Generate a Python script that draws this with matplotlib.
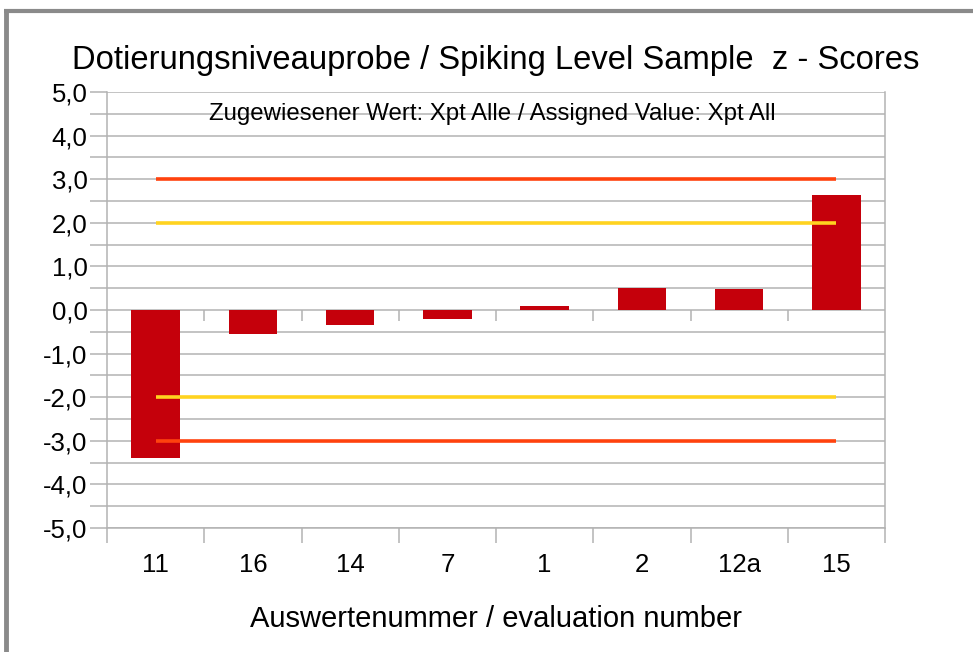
import numpy as np
import matplotlib
matplotlib.use("Agg")
import matplotlib.pyplot as plt
from matplotlib.lines import Line2D

plt.rcParams['font.family'] = ['Liberation Sans', 'DejaVu Sans']

categories = ['11', '16', '14', '7', '1', '2', '12a', '15']
z_scores = [-3.40, -0.55, -0.34, -0.20, 0.10, 0.50, 0.49, 2.64]
warn_limits = [2.0, -2.0]
action_limits = [3.0, -3.0]
y_ticks = [5, 4, 3, 2, 1, 0, -1, -2, -3, -4, -5]

title = 'Dotierungsniveauprobe / Spiking Level Sample  z - Scores'
subtitle = 'Zugewiesener Wert: Xpt Alle / Assigned Value: Xpt All'
xlabel = 'Auswertenummer / evaluation number'

W, H = 973, 652
fig = plt.figure(figsize=(W / 100, H / 100), dpi=100)
fig.patch.set_facecolor('white')

# outer frame (top and left visible)
fig.add_artist(Line2D([6 / W, 6 / W], [0, 1 - 10 / H], transform=fig.transFigure,
                      color='#8a8a8a', lw=3.5, solid_capstyle='butt'))
fig.add_artist(Line2D([4 / W, 1], [1 - 11 / H, 1 - 11 / H], transform=fig.transFigure,
                      color='#8a8a8a', lw=3, solid_capstyle='butt'))

left, right, top, bottom = 107, 885, 92, 528
ax = fig.add_axes([left / W, 1 - bottom / H, (right - left) / W, (bottom - top) / H])

x = np.arange(len(categories))
ax.set_xlim(-0.5, len(categories) - 0.5)
ax.set_ylim(-5, 5)

# grid every 0.5
ax.set_yticks(y_ticks)
ax.set_yticks(np.arange(-4.5, 5, 1.0), minor=True)
ax.grid(axis='y', which='both', color='#b3b3b3', lw=1.1, zorder=0)
ax.set_axisbelow(True)
ax.tick_params(axis='y', which='both', length=12, width=1.1, color='#b3b3b3',
               labelsize=18.5, pad=2, labelcolor='black')
ax.set_yticklabels([f'{v:.1f}'.replace('.', ',') for v in y_ticks])

# x ticks: labels at centers, tick marks at boundaries
ax.set_xticks(x)
ax.set_xticklabels(categories)
ax.tick_params(axis='x', which='major', length=0, labelsize=18.5, pad=18)
ax.set_xticks(np.arange(-0.5, len(categories), 1.0), minor=True)
ax.tick_params(axis='x', which='minor', length=11, width=1.1, color='#b3b3b3')

for s in ['left', 'right', 'bottom']:
    ax.spines[s].set_color('#b3b3b3')
    ax.spines[s].set_linewidth(1.1)
ax.spines['top'].set_visible(False)

# ticks at zero axis
bounds = np.arange(0.5, len(categories) - 0.5, 1.0)
ax.vlines(bounds, -0.25, 0, color='#b3b3b3', lw=1.1, zorder=1)

ax.bar(x, z_scores, width=0.5, color='#c5000b', zorder=2)

for v in warn_limits:
    ax.plot([x[0], x[-1]], [v, v], color='#ffd320', lw=2.6, zorder=3, solid_capstyle='butt')
for v in action_limits:
    ax.plot([x[0], x[-1]], [v, v], color='#ff420e', lw=2.6, zorder=3, solid_capstyle='butt')

fig.text(496 / W, 1 - 60 / H, title, ha='center', va='center', fontsize=23.6)
fig.text(492 / W, 1 - 114 / H, subtitle, ha='center', va='center', fontsize=17.3)
fig.text(496 / W, 1 - 619 / H, xlabel, ha='center', va='center', fontsize=21)

fig.savefig('out.png', dpi=100, facecolor='white')
